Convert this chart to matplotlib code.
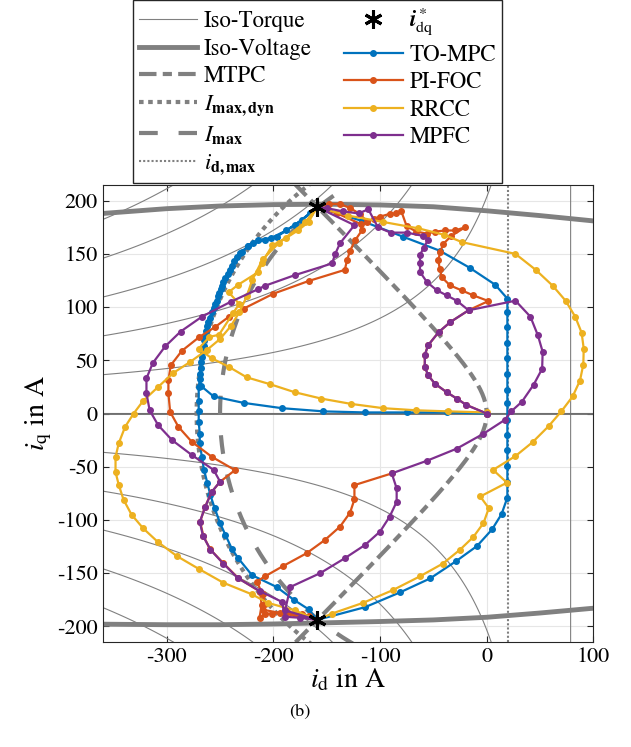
import numpy as np
import matplotlib.pyplot as plt
from matplotlib.lines import Line2D

plt.rcParams['font.family'] = 'STIXGeneral'
plt.rcParams['mathtext.fontset'] = 'stix'
plt.rcParams['axes.unicode_minus'] = False

# machine / limit data
id_asym = 78.7          # asymptote of the iso-torque hyperbolas (T = 0 line)
torque_step = 16000     # iq*(id_asym - id) per iso-torque level
torque_levels = [-5, -4, -3, -2, -1, 0, 1, 2, 3, 4, 5]
i_max = 250
i_max_dyn = 272
id_max = 20

# iso-voltage limit (upper and lower branch)
uv_id = [-360, -300, -250, -200, -150, -100, -50, 0, 50, 100]
uv_top = [188, 192.5, 195, 196.3, 196.7, 196, 194.3, 190.5, 186, 181]
uv_bot = [-198, -198.5, -198.5, -197.8, -196.7, -195.5, -194, -191.5, -187.5, -183]

ref_id = [-159, -159]
ref_iq = [194, -194]

# TO-MPC
to_mpc = [(0, 0), (-37, 1), (-75, 1), (-114, 1), (-153, 2), (-192, 5), (-228, 10), (-256, 16),
          (-268, 26), (-269, 37), (-268, 48), (-266, 58), (-265, 69), (-263, 78), (-261, 86),
          (-258, 95), (-255, 103), (-252, 110), (-249, 117), (-247, 124), (-243, 131),
          (-239, 139), (-234, 147), (-229, 152), (-224, 157), (-219, 160), (-208, 163),
          (-197, 166), (-180, 177), (-166, 188), (-159, 194),
          (-117, 181), (-78, 166), (-44, 153), (-16, 137), (8, 121), (19.4, 108), (19.4, 95),
          (19.4, 81), (19.4, 66), (19.4, 52), (19.4, 37), (19.4, 22.5), (19.4, 10), (19.4, -6),
          (19.4, -20), (19.4, -34), (19.4, -49), (19.4, -64), (19.4, -79), (14, -94.5),
          (5, -109), (-9, -124.5), (-29, -139), (-53, -155), (-81, -168), (-114, -182),
          (-159, -194),
          (-167, -184), (-181, -175), (-197, -163), (-220, -152), (-233, -136), (-239, -127),
          (-245, -114), (-250, -103), (-255, -89), (-259, -77), (-262, -65), (-265, -53),
          (-267, -41), (-269, -28), (-269, -19), (-270, -8), (-270, 2), (-270, 12), (-270, 25),
          (-269, 32), (-268, 43), (-267, 53), (-265, 63), (-264, 73), (-262, 82), (-259, 90),
          (-256, 99), (-253, 106), (-251, 113), (-248, 120), (-245, 127), (-241, 135),
          (-237, 143), (-231, 151), (-224, 157), (-214, 163), (-202, 165), (-188, 172),
          (-173, 182), (-159, 194)]

# PI-FOC
pi_foc = [(0, 0), (-19, 8), (-28, 14), (-37.5, 20), (-48.5, 28), (-55, 36), (-58, 44), (-58, 55),
          (-55, 64), (-45, 76.5), (-34, 86), (-17, 97), (1.6, 105.7), (-12.5, 111),
          (-23.4, 115.7), (-34.4, 120.4), (-42.2, 128.2), (-44, 136), (-45.3, 143.9),
          (-43.7, 151.7), (-40.6, 159.5), (-33, 167), (-20.3, 175), (-29.7, 172), (-39, 172),
          (-48, 171), (-56, 169), (-66, 171), (-75, 176), (-80, 190), (-85, 188), (-91, 187.6),
          (-100, 185), (-106, 183), (-112, 180), (-119, 187.6), (-128, 193), (-137.5, 197),
          (-148, 197), (-159, 194),
          (-140, 188), (-118, 178), (-117, 172), (-123.5, 162.6), (-128, 153), (-131, 144),
          (-133, 135), (-167, 124.5), (-200, 112.6), (-228, 98.5), (-242, 90.7), (-254.6, 81.3),
          (-269.3, 72), (-285.9, 58.8), (-296.2, 45.3), (-298.4, 31.3), (-298.4, 18.8),
          (-296.8, 1.6), (-289, -12.6), (-276.5, -26.6), (-257.7, -40.7), (-236, -53.2),
          (-250, -64.2), (-257.7, -73.5), (-264, -87.6), (-268.7, -101.7), (-265.6, -115.1),
          (-259.3, -127.6), (-246.9, -140.7), (-232.8, -154.8), (-212.5, -167.4), (-211, -180),
          (-213, -192), (-208, -188), (-201.6, -188), (-193.7, -187.6), (-187.5, -187),
          (-179.7, -188.3), (-173.4, -188.3), (-167, -190), (-159, -194),
          (-209.3, -184.5), (-207.8, -179), (-210, -170), (-215.6, -158), (-207.8, -153),
          (-190.6, -143.2), (-168.8, -131.3), (-151.6, -118.8), (-137.5, -106.3),
          (-128.1, -93.2), (-124, -80.7), (-124, -67.3), (-89, -56.3)]

# RRCC
rrcc = [(0, 1), (-36, 2), (-66, 3), (-97, 5), (-127, 9), (-155, 14), (-180, 20), (-203, 27.5),
        (-225, 34), (-242, 44), (-258, 52), (-270, 61), (-260, 72), (-251, 74), (-238, 94),
        (-232, 103), (-242, 114), (-233, 121), (-214, 133), (-211, 141), (-201, 158),
        (-188, 165), (-177, 172), (-167, 180), (-159, 194),
        (-130, 186), (-97, 180), (-64, 174), (-40, 168), (-23, 161), (27, 150), (46, 135),
        (62, 120), (74, 106), (83, 91), (89, 76), (91, 61), (90.6, 46), (87.5, 31), (80.6, 16),
        (70, 2), (58, -12), (43, -27), (27, -40), (6, -53), (19, -65), (-6, -78), (2, -89),
        (-3, -103), (-12.5, -116), (-25, -128), (-41, -141), (-62.5, -153), (-88, -166),
        (-116, -178), (-145, -188), (-159, -194),
        (-180, -185), (-205, -178), (-220, -170), (-247, -159), (-270, -146), (-290.5, -134),
        (-308, -121), (-322, -108), (-333, -95), (-340.5, -81), (-345, -67), (-348, -55),
        (-348, -41), (-345, -28), (-339, -12.5), (-331, 0), (-322, 12), (-308, 25), (-294, 38),
        (-278, 48.5), (-262, 60), (-250, 70), (-240, 82), (-232, 95), (-225, 110),
        (-220, 125), (-210, 145), (-195, 160), (-170, 180), (-159, 194)]

# MPFC
mpfc = [(0, 0), (-19, 8), (-28, 14), (-37.5, 20), (-48.5, 28), (-55, 36), (-58, 44), (-58, 55),
        (-55, 64), (-45, 76.5), (-34, 86), (-17, 97), (-28, 106), (-37.5, 111), (-47, 116),
        (-56, 123.5), (-62.5, 133), (-62.5, 141), (-62.5, 149), (-59, 156), (-55, 163),
        (-60, 167), (-75, 170), (-90, 170), (-102, 175), (-111, 192), (-120, 188),
        (-135, 190), (-150, 193), (-159, 194),
        (-124, 177), (-137.5, 160), (-142, 150), (-145, 141), (-180, 130), (-208, 120),
        (-214, 117), (-240, 105), (-267, 91), (-287, 77), (-301.5, 63), (-313, 47.5),
        (-319, 33), (-319, 19), (-316, 3), (-308, -11), (-295, -25), (-276.5, -39),
        (-256, -53), (-250, -64), (-258, -74), (-264, -88), (-269, -102), (-266, -115),
        (-259, -128), (-247, -141), (-233, -155), (-212.5, -167), (-192, -177), (-189, -191),
        (-175, -192), (-159, -194),
        (-189, -185), (-184, -163), (-156, -150), (-133, -136), (-114, -123.5), (-100, -111),
        (-91, -97), (-84.4, -83), (-84.4, -70.4), (-89, -56.3), (-56, -44.4), (-28, -33),
        (-3, -19), (17, -6), (23, 2), (33, 11), (44, 27), (52, 42), (52.5, 58), (48, 73.5),
        (41, 91), (27, 106), (-17, 97)]

gray = '#808080'
mtpc_dash = (4.2, 1.5, 2.2, 1.5)
dyn_dash = (1.1, 1.1)
imax_dash = (4.5, 5)

fig = plt.figure(figsize=(6.31, 7.47), dpi=100)
ax = fig.add_axes([0.1628, 0.1402, 0.7775, 0.6125])

# iso-torque contours
gid, giq = np.meshgrid(np.linspace(-360, 100, 600), np.linspace(-215, 215, 600))
torque = giq * (id_asym - gid) / torque_step
ax.contour(gid, giq, torque, levels=torque_levels, colors=gray, linewidths=0.8,
           linestyles='solid', zorder=2)
ax.axhline(0, color='#6e6e6e', lw=1.3, zorder=2)

# iso-voltage
ax.plot(uv_id, uv_top, color=gray, lw=3.5, zorder=2)
ax.plot(uv_id, uv_bot, color=gray, lw=3.5, zorder=2)

# MTPC
iq_line = np.linspace(-215, 215, 200)
ax.plot(id_asym / 2 - np.sqrt(id_asym ** 2 / 4 + iq_line ** 2), iq_line, color=gray, lw=3,
        dashes=mtpc_dash, zorder=2)

# current limits
phi = np.linspace(0, 2 * np.pi, 400)
ax.plot(i_max_dyn * np.cos(phi), i_max_dyn * np.sin(phi), color=gray, lw=3,
        dashes=dyn_dash, zorder=2)
ax.plot(i_max * np.cos(phi), i_max * np.sin(phi), color=gray, lw=3,
        dashes=imax_dash, zorder=2)
ax.axvline(id_max, color=gray, lw=1.5, ls=(0, (1, 1)), zorder=2)

colors = ['#0072BD', '#D95319', '#EDB120', '#7E2F8E']
names = ['TO-MPC', 'PI-FOC', 'RRCC', 'MPFC']
for data, c in zip([to_mpc, pi_foc, rrcc, mpfc], colors):
    x, y = zip(*data)
    ax.plot(x, y, color=c, lw=1.6, marker='o', ms=4, zorder=3)

ax.plot(ref_id, ref_iq, ls='none', marker=(6, 2, 0), ms=13, mew=2.2, color='k', zorder=5)

ax.set_xlim(-360, 100)
ax.set_ylim(-215, 215)
ax.set_xticks([-300, -200, -100, 0, 100])
ax.set_yticks([-200, -150, -100, -50, 0, 50, 100, 150, 200])
ax.grid(True, color='#e6e6e6', lw=0.8, zorder=0)
ax.set_axisbelow(True)
ax.tick_params(direction='in', top=True, right=True, labelsize=16, length=4, color='#262626')
for s in ax.spines.values():
    s.set_color('#262626')
ax.set_xlabel(r'$i_\mathrm{d}$ in A', fontsize=20, labelpad=0)
ax.set_ylabel(r'$i_\mathrm{q}$ in A', fontsize=20, labelpad=2)

handles = [
    Line2D([], [], color=gray, lw=0.8),
    Line2D([], [], color=gray, lw=3.5),
    Line2D([], [], color=gray, lw=3, dashes=mtpc_dash),
    Line2D([], [], color=gray, lw=3, dashes=dyn_dash),
    Line2D([], [], color=gray, lw=3, dashes=imax_dash),
    Line2D([], [], color=gray, lw=1.5, ls=(0, (1, 1))),
    Line2D([], [], ls='none', marker=(6, 2, 0), ms=13, mew=2.2, color='k'),
] + [Line2D([], [], color=c, lw=1.6, marker='o', ms=4) for c in colors]
labels = ['Iso-Torque', 'Iso-Voltage', 'MTPC', r'$I_\mathbf{max,dyn}$', r'$I_\mathbf{max}$',
          r'$i_\mathbf{d,max}$', r'$\boldsymbol{i}^*_\mathrm{dq}$'] + names
fig.legend(handles, labels, loc='upper left', bbox_to_anchor=(133 / 631, 1.0),
           bbox_transform=fig.transFigure, ncol=2, fontsize=16.5, handlelength=2.55,
           handletextpad=0.3, labelspacing=0.27, columnspacing=1.4, fancybox=False,
           edgecolor='#262626', framealpha=1, borderpad=0.25, borderaxespad=0)

fig.text(300 / 631, 1 - 712 / 747, '(b)', ha='center', va='center', fontsize=13)
fig.savefig('out.png', dpi=100)
